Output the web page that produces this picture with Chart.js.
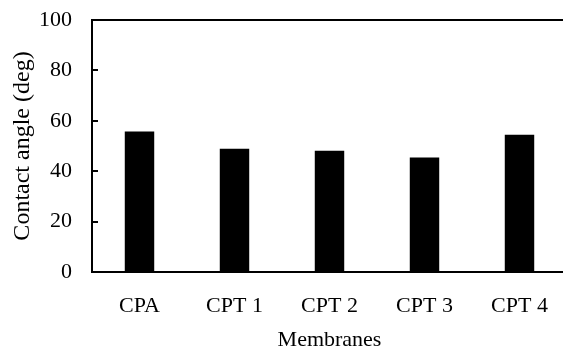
<!DOCTYPE html>
<html>
<head>
<meta charset="utf-8">
<script src="https://cdn.jsdelivr.net/npm/chart.js@4/dist/chart.umd.min.js"></script>
<style>
  html, body { margin: 0; padding: 0; background: #fff; overflow: hidden; }
  #wrap { width: 567px; height: 349px; }
</style>
</head>
<body>
<div id="wrap"><canvas id="angleChart" width="567" height="349"></canvas></div>
<script>
// Membranes and contact angle
const membranes = ['CPA', 'CPT 1', 'CPT 2', 'CPT 3', 'CPT 4'];
const contactAngle = [55.8, 48.9, 48.1, 45.4, 54.5];
const yTicks = [0, 20, 40, 60, 80, 100];

const serif = 'Liberation Serif, Times New Roman, serif';

// small inward tick marks on the y axis
const innerTicks = {
  id: 'innerTicks',
  afterDraw(chart) {
    const ctx = chart.ctx;
    const y = chart.scales.y;
    const left = chart.chartArea.left;
    ctx.save();
    ctx.strokeStyle = '#000';
    ctx.lineWidth = 2;
    yTicks.forEach(v => {
      if (v === 0 || v === 100) return;
      const py = Math.round(y.getPixelForValue(v));
      ctx.beginPath();
      ctx.moveTo(left, py);
      ctx.lineTo(left + 6, py);
      ctx.stroke();
    });
    ctx.restore();
  }
};

new Chart(document.getElementById('angleChart'), {
  type: 'bar',
  data: {
    labels: membranes,
    datasets: [{
      data: contactAngle,
      backgroundColor: '#000',
      borderWidth: 0,
      barPercentage: 0.31,
      categoryPercentage: 1
    }]
  },
  options: {
    responsive: false,
    animation: false,
    layout: { autoPadding: false, padding: { top: 20, right: 0, bottom: 0, left: 2 } },
    plugins: {
      legend: { display: false },
      tooltip: { enabled: false }
    },
    scales: {
      x: {
        afterFit: s => { s.height = 77; s.paddingLeft = 0; s.paddingRight = 0; },
        grid: { display: false, drawTicks: false },
        border: { color: '#000', width: 2 },
        ticks: { color: '#000', font: { family: serif, size: 22 }, padding: 21 },
        title: {
          display: true,
          text: 'Membranes',
          color: '#000',
          font: { family: serif, size: 22 },
          padding: { top: 0, bottom: -4 }
        }
      },
      y: {
        min: 0,
        max: 100,
        // tick padding would otherwise push the plot top down
        afterFit: s => { s.width = 90; s.paddingTop = 0; s.paddingBottom = 0; },
        grid: {
          drawTicks: false,
          color: c => (c.tick && c.tick.value === 100 ? '#000' : 'rgba(0,0,0,0)'),
          lineWidth: 2
        },
        border: { color: '#000', width: 2 },
        afterBuildTicks: axis => { axis.ticks = yTicks.map(v => ({ value: v })); },
        ticks: { color: '#000', font: { family: serif, size: 22 }, padding: 20 },
        title: {
          display: true,
          text: 'Contact angle (deg)',
          color: '#000',
          font: { family: serif, size: 24 },
          padding: { top: 6, bottom: 0 }
        }
      }
    }
  },
  plugins: [innerTicks]
});
</script>
</body>
</html>
